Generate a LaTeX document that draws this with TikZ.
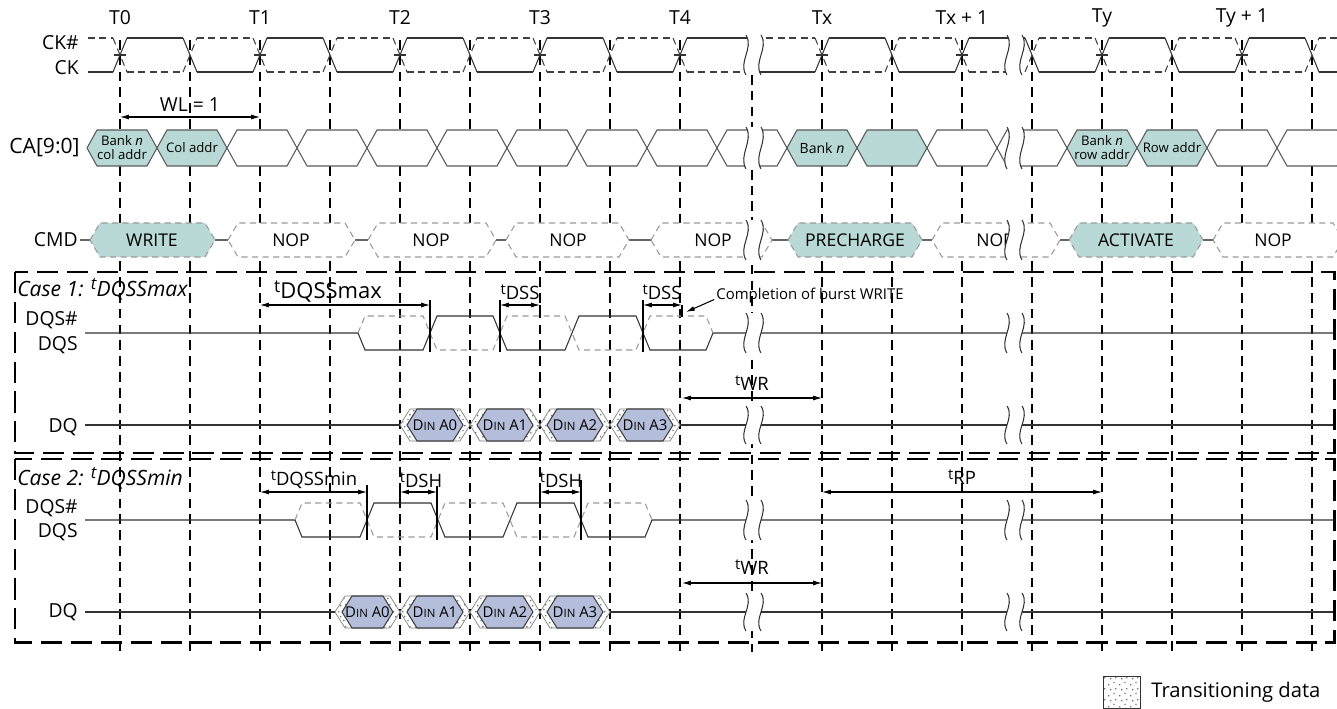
\documentclass[tikz,border=0pt]{standalone}
\usepackage{fontspec}
\setmainfont{Open Sans}
\usetikzlibrary{arrows.meta, patterns, positioning}

\definecolor{cellteal}{HTML}{B8D9D5}
\definecolor{dinblue}{HTML}{B4BEDB}
\definecolor{strobegray}{HTML}{9A9A9A}

\pgfdeclarepatternformonly{stipple}{\pgfqpoint{0pt}{0pt}}{\pgfqpoint{6pt}{6pt}}{\pgfqpoint{6pt}{6pt}}{%
  \pgfpathrectangle{\pgfqpoint{0.6pt}{0.9pt}}{\pgfqpoint{0.8pt}{0.8pt}}%
  \pgfpathrectangle{\pgfqpoint{3.7pt}{2.2pt}}{\pgfqpoint{0.8pt}{0.8pt}}%
  \pgfpathrectangle{\pgfqpoint{1.8pt}{4.5pt}}{\pgfqpoint{0.8pt}{0.8pt}}%
  \pgfpathrectangle{\pgfqpoint{4.8pt}{5.0pt}}{\pgfqpoint{0.8pt}{0.8pt}}%
  \pgfusepath{fill}}

\tikzstyle{wave} = [draw=black!80, line width=0.6pt]
\tikzstyle{wavebar} = [draw=black!75, line width=0.6pt, dash pattern=on 4pt off 2.5pt]
\tikzstyle{strobebar} = [draw=strobegray, line width=0.6pt, dash pattern=on 3.5pt off 2.5pt]
\tikzstyle{clockline} = [draw=black, line width=0.7pt, dash pattern=on 5.5pt off 3.5pt]
\tikzstyle{casebox} = [draw=black, line width=1.7pt, dash pattern=on 12pt off 5pt]
\tikzstyle{cacell} = [draw=black!65, line width=0.6pt, fill=white]
\tikzstyle{cmdcell} = [draw=strobegray, line width=0.6pt, dash pattern=on 3.5pt off 2.5pt, fill=white]
\tikzstyle{dinedge} = [draw=black!50, line width=0.4pt, pattern=stipple, pattern color=black!55, preaction={fill=white}]
\tikzstyle{dincell} = [draw=black!75, line width=0.6pt, fill=dinblue]
\tikzstyle{timing} = [black, line width=0.6pt, {Latex[length=5pt,width=2.8pt]}-{Latex[length=5pt,width=2.8pt]}]
\tikzstyle{pointer} = [black, line width=0.6pt, -{Latex[length=5pt,width=2.8pt]}]
\tikzstyle{tick} = [black, line width=0.6pt]
\tikzstyle{rowlabel} = [anchor=east, inner sep=0pt, font=\fontsize{11}{13}\selectfont]
\tikzstyle{edgelabel} = [inner sep=0pt, font=\fontsize{11}{13}\selectfont]
\tikzstyle{parmlabel} = [inner sep=0pt, font=\fontsize{10.5}{12}\selectfont]
\tikzstyle{caselabel} = [anchor=west, inner sep=0pt, font=\fontsize{12}{14}\selectfont\itshape]
\tikzstyle{cmdtext} = [inner sep=0pt, font=\fontsize{10}{12}\selectfont]
\tikzstyle{catext} = [inner sep=0pt, align=center, font=\fontsize{7.5}{8}\selectfont]
\tikzstyle{dintext} = [inner sep=0pt, font=\fontsize{8.5}{10}\selectfont]

\newcommand{\tparm}[1]{\scalebox{0.8}{t}\raisebox{-0.5ex}{#1}}
\newcommand{\tsup}[1]{\raisebox{0.6ex}{\scalebox{0.8}{t}}#1}
\newcommand{\din}[1]{D{\fontsize{6.5}{8}\selectfont IN} A#1}
% hexagon from crossing #1 to crossing #2, centre line #3, half height #4
\newcommand{\hexpath}[4]{(#1,#3) -- (#1+10,#3-#4) -- (#2-10,#3-#4) -- (#2,#3) -- (#2-10,#3+#4) -- (#1+10,#3+#4) -- cycle}
% data word with transitioning edges
\newcommand{\dqcell}[5]{%
  \draw[dinedge] \hexpath{#1}{#2}{#3}{16};
  \draw[dincell] \hexpath{#1+7}{#2-7}{#3}{16};
  \node[dintext] (#4) at ({(#1+#2)/2},#3) {#5};}
% time break at x = #1 on a row with centre #2 and half height #3
\newcommand{\breakmark}[3]{%
  \fill[white] (#1,#2-#3) .. controls (#1+8,#2-#3/3) and (#1-8,#2+#3/3) .. (#1,#2+#3)
    -- (#1+15,#2+#3) .. controls (#1+7,#2+#3/3) and (#1+23,#2-#3/3) .. (#1+15,#2-#3) -- cycle;
  \draw[wave] (#1,#2-#3) .. controls (#1+8,#2-#3/3) and (#1-8,#2+#3/3) .. (#1,#2+#3);
  \draw[wave] (#1+15,#2-#3) .. controls (#1+23,#2-#3/3) and (#1+7,#2+#3/3) .. (#1+15,#2+#3);}

\begin{document}
\begin{tikzpicture}[x=0.02cm, y=-0.02cm]
\useasboundingbox (0,0) rectangle (1337,709);

% clock edge lines
\foreach \x in {120,190,260,330,400,470,540,610,680,822,892,962,1032,1102,1172,1242,1312}
  \draw[clockline] (\x,40) -- (\x,652);
\draw[clockline] (752,75) -- (752,652);

% case boxes
\draw[casebox] (15,272) rectangle (1334,453);
\draw[casebox] (15,459) rectangle (1334,642);

% clock labels
\node[edgelabel] (T0) at (120,18) {T0};
\node[edgelabel] (T1) at (260,18) {T1};
\node[edgelabel] (T2) at (400,18) {T2};
\node[edgelabel] (T3) at (540,18) {T3};
\node[edgelabel] (T4) at (680,18) {T4};
\node[edgelabel] (Tx) at (822,18) {Tx};
\node[edgelabel] (Tx1) at (962,18) {Tx + 1};
\node[edgelabel] (Ty) at (1102,18) {Ty};
\node[edgelabel] (Ty1) at (1242,18) {Ty + 1};

% row labels
\node[rowlabel] (CKn) at (79,43) {CK\#};
\node[rowlabel] (CK) at (79,68) {CK};
\node[rowlabel, font=\fontsize{12}{14}\selectfont] (CA) at (80,148) {CA[9:0]};
\node[rowlabel] (CMD) at (78,240) {CMD};
\node[rowlabel] (DQSn1) at (78,320) {DQS\#};
\node[rowlabel] (DQS1) at (78,345) {DQS};
\node[rowlabel] (DQ1) at (78,427) {DQ};
\node[rowlabel] (DQSn2) at (78,508) {DQS\#};
\node[rowlabel] (DQS2) at (78,532) {DQS};
\node[rowlabel] (DQ2) at (78,612) {DQ};

% CK / CK#
\foreach \x/\r in {120/1,190/0,260/1,330/0,400/1,470/0,540/1,610/0,680/1,822/1,892/0,962/1,1032/0,1102/1,1172/0,1242/1,1312/0} {
  \ifnum\r=1
    \draw[wave] (\x-7,72) -- (\x+7,38);
    \draw[wavebar] (\x-7,38) -- (\x+7,72);
    \draw[wave] (\x-6,55) -- (\x+6,55);
  \else
    \draw[wave] (\x-7,38) -- (\x+7,72);
    \draw[wavebar] (\x-7,72) -- (\x+7,38);
  \fi
}
\foreach \a/\b/\h in {88/113/0,127/183/1,197/253/0,267/323/1,337/393/0,407/463/1,477/533/0,547/603/1,617/673/0,687/752/1,755/815/0,829/885/1,899/955/0,969/1014/1,1014/1025/1,1039/1095/0,1109/1165/1,1179/1235/0,1249/1305/1,1319/1337/0} {
  \ifnum\h=1
    \draw[wave] (\a,38) -- (\b,38);
    \draw[wavebar] (\a,72) -- (\b,72);
  \else
    \draw[wave] (\a,72) -- (\b,72);
    \draw[wavebar] (\a,38) -- (\b,38);
  \fi
}

% CA[9:0]
\foreach \a/\b in {227/297,297/367,367/437,437/507,507/577,577/647,647/717,717/787,927/997,997/1067,1207/1277,1277/1347}
  \draw[cacell] \hexpath{\a}{\b}{148}{18};
\draw[cacell, fill=cellteal] \hexpath{87}{157}{148}{18};
\draw[cacell, fill=cellteal] \hexpath{157}{227}{148}{18};
\draw[cacell, fill=cellteal] \hexpath{787}{857}{148}{18};
\draw[cacell, fill=cellteal] \hexpath{857}{927}{148}{18};
\draw[cacell, fill=cellteal] \hexpath{1067}{1137}{148}{18};
\draw[cacell, fill=cellteal] \hexpath{1137}{1207}{148}{18};
\node[catext] (caBankCol) at (122,148) {Bank \textit{n}\\col addr};
\node[catext] (caCol) at (192,148) {Col addr};
\node[catext, font=\fontsize{8}{9}\selectfont] (caBank) at (822,148) {Bank \textit{n}};
\node[catext] (caBankRow) at (1102,148) {Bank \textit{n}\\row addr};
\node[catext] (caRow) at (1172,148) {Row addr};

% CMD
\foreach \a/\b in {80/90,215/228,355/368,496/506,629/651,772/788,922/932,1060/1069,1203/1213}
  \draw[wave, draw=black!60] (\a,240) -- (\b,240);
\foreach \a/\b in {228/355,368/496,506/629,651/772,932/1060,1213/1343}
  \draw[cmdcell] \hexpath{\a}{\b}{240}{17};
\draw[cmdcell, fill=cellteal] \hexpath{90}{215}{240}{17};
\draw[cmdcell, fill=cellteal] \hexpath{788}{922}{240}{17};
\draw[cmdcell, fill=cellteal] \hexpath{1069}{1203}{240}{17};
\node[cmdtext] (cmdWrite) at (152,240) {WRITE};
\node[cmdtext] (cmdNop1) at (291,240) {NOP};
\node[cmdtext] (cmdNop2) at (431,240) {NOP};
\node[cmdtext] (cmdNop3) at (568,240) {NOP};
\node[cmdtext] (cmdNop4) at (713,240) {NOP};
\node[cmdtext] (cmdPre) at (855,240) {PRECHARGE};
\node[cmdtext] (cmdNop5) at (995,240) {NOP};
\node[cmdtext] (cmdAct) at (1136,240) {ACTIVATE};
\node[cmdtext] (cmdNop6) at (1273,240) {NOP};

% case 1: DQS, DQS#
\draw[wave] (85,333) -- (358,333) -- (365,350) -- (423,350) -- (437,316) -- (493,316) -- (507,350) -- (565,350) -- (579,316) -- (636,316) -- (650,350) -- (706,350) -- (713,333) -- (1333,333);
\draw[strobebar] (358,333) -- (365,316) -- (423,316) -- (437,350) -- (493,350) -- (507,316) -- (565,316) -- (579,350) -- (636,350) -- (650,316) -- (706,316) -- (713,333);

% case 1: DQ
\draw[wave] (85,425) -- (400,425);
\draw[wave] (680,425) -- (1333,425);
\dqcell{400}{470}{425}{dq1a0}{\din{0}}
\dqcell{470}{540}{425}{dq1a1}{\din{1}}
\dqcell{540}{610}{425}{dq1a2}{\din{2}}
\dqcell{610}{680}{425}{dq1a3}{\din{3}}

% case 2: DQS, DQS#
\draw[wave] (85,520) -- (295,520) -- (302,537) -- (360,537) -- (374,503) -- (431,503) -- (445,537) -- (503,537) -- (517,503) -- (574,503) -- (588,537) -- (645,537) -- (652,520) -- (1333,520);
\draw[strobebar] (295,520) -- (302,503) -- (360,503) -- (374,537) -- (431,537) -- (445,503) -- (503,503) -- (517,537) -- (574,537) -- (588,503) -- (645,503) -- (652,520);

% case 2: DQ
\draw[wave] (85,612) -- (335,612);
\draw[wave] (610,612) -- (1333,612);
\dqcell{335}{400}{612}{dq2a0}{\din{0}}
\dqcell{400}{470}{612}{dq2a1}{\din{1}}
\dqcell{470}{540}{612}{dq2a2}{\din{2}}
\dqcell{540}{610}{612}{dq2a3}{\din{3}}

% time breaks
\foreach \y/\h in {55/20,148/21,240/20,333/20,425/19,520/20,612/19} {
  \breakmark{746}{\y}{\h}
  \breakmark{1007}{\y}{\h}
}

% WL
\coordinate (wlL) at (120,117);
\coordinate (wlR) at (260,117);
\draw[timing] (wlL) -- (wlR);
\node[parmlabel, font=\fontsize{11}{13}\selectfont] (wl) at (190,105) {WL = 1};

% case 1 timing
\node[caselabel] (case1) at (17,289) {Case 1: \tsup{DQSSmax}};
\coordinate (dqssmaxL) at (260,305);
\coordinate (dqssmaxR) at (430,305);
\draw[timing] (dqssmaxL) -- (dqssmaxR);
\draw[tick] (430,300) -- (430,352);
\node[parmlabel, font=\fontsize{12.5}{14}\selectfont] (tdqssmax) at (328,292) {\tparm{DQSSmax}};

\coordinate (dss1L) at (500,305);
\coordinate (dss1R) at (540,305);
\draw[timing] (dss1L) -- (dss1R);
\draw[tick] (500,300) -- (500,352);
\draw[tick] (540,305) -- (540,317);
\node[parmlabel] (tdss1) at (520,292) {\tparm{DSS}};

\coordinate (dss2L) at (643,305);
\coordinate (dss2R) at (682,305);
\draw[timing] (dss2L) -- (dss2R);
\draw[tick] (643,300) -- (643,352);
\draw[tick] (682,305) -- (682,317);
\node[parmlabel] (tdss2) at (662,292) {\tparm{DSS}};

\node[anchor=west, inner sep=0pt, font=\fontsize{8.5}{10}\selectfont] (completion) at (716,296) {Completion of burst WRITE};
\coordinate (completionTip) at (686,312);
\draw[pointer] ([xshift=-1pt, yshift=-2pt]completion.west) -- (completionTip);

\coordinate (wr1L) at (682,398);
\coordinate (wr1R) at (822,398);
\draw[timing] (wr1L) -- (wr1R);
\node[parmlabel] (twr1) at (752,383) {\tparm{WR}};

% case 2 timing
\node[caselabel] (case2) at (17,478) {Case 2: \tsup{DQSSmin}};
\coordinate (dqssminL) at (260,492);
\coordinate (dqssminR) at (367,492);
\draw[timing] (dqssminL) -- (dqssminR);
\draw[tick] (367,485) -- (367,540);
\node[parmlabel] (tdqssmin) at (314,480) {\tparm{DQSSmin}};

\coordinate (dsh1L) at (400,492);
\coordinate (dsh1R) at (437,492);
\draw[timing] (dsh1L) -- (dsh1R);
\draw[tick] (437,486) -- (437,540);
\draw[tick] (400,492) -- (400,503);
\node[parmlabel] (tdsh1) at (421,480) {\tparm{DSH}};

\coordinate (dsh2L) at (540,492);
\coordinate (dsh2R) at (581,492);
\draw[timing] (dsh2L) -- (dsh2R);
\draw[tick] (581,480) -- (581,540);
\draw[tick] (540,492) -- (540,503);
\node[parmlabel] (tdsh2) at (561,480) {\tparm{DSH}};

\coordinate (rpL) at (822,492);
\coordinate (rpR) at (1102,492);
\draw[timing] (rpL) -- (rpR);
\node[parmlabel] (trp) at (962,477) {\tparm{RP}};

\coordinate (wr2L) at (682,583);
\coordinate (wr2R) at (822,583);
\draw[timing] (wr2L) -- (wr2R);
\node[parmlabel] (twr2) at (752,567) {\tparm{WR}};

% legend
\draw[dinedge, draw=black!80] (1103,676) rectangle (1140,708);
\node[anchor=west, inner sep=0pt, font=\fontsize{11.5}{13}\selectfont] (legend) at (1151,692) {Transitioning data};
\end{tikzpicture}
\end{document}
